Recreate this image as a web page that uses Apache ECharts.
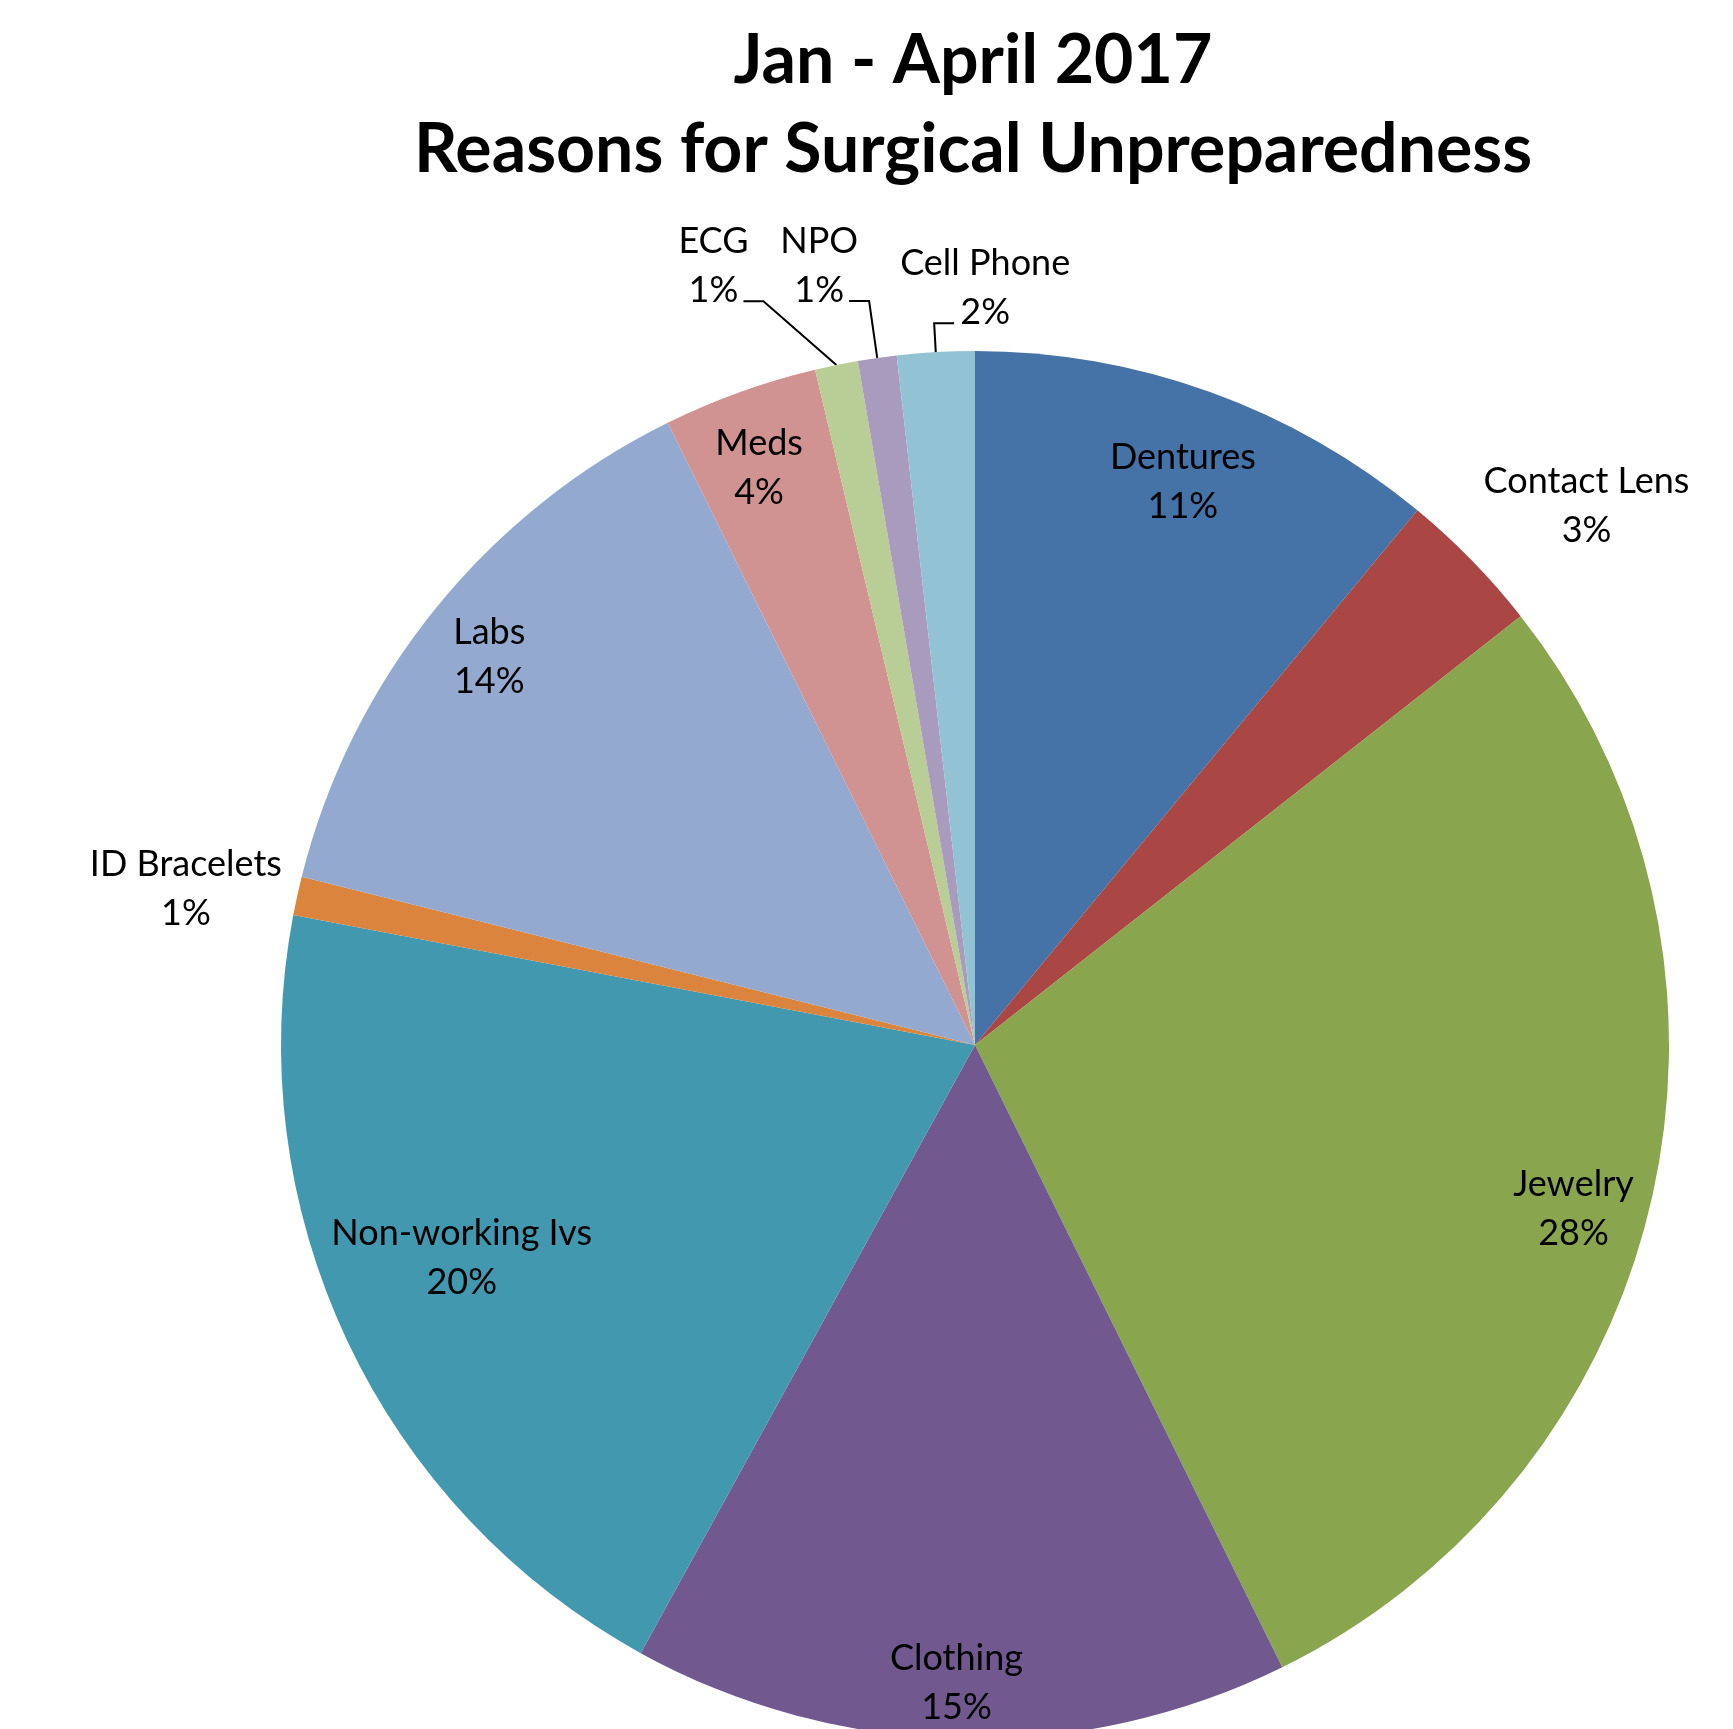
<!DOCTYPE html>
<html><head><meta charset="utf-8">
<script src="https://cdn.jsdelivr.net/npm/echarts@6/dist/echarts.min.js"></script>
<style>html,body{margin:0;padding:0;background:#fff}#chart{width:1733px;height:1729px}</style>
</head><body><div id="chart"></div>
<script>
// ---- data ----
const titleLines = ['Jan - April 2017', 'Reasons for Surgical Unpreparedness'];
const categories = ['Dentures', 'Contact Lens', 'Jewelry', 'Clothing', 'Non-working Ivs', 'ID Bracelets', 'Labs', 'Meds', 'ECG', 'NPO', 'Cell Phone'];
const values = [11.0, 3.4, 28.3, 15.3, 20.0, 0.9, 13.8, 3.6, 1.0, 0.9, 1.8];

// ---- styles ----
const colors = ['#4572A7', '#AA4643', '#89A54E', '#71588F', '#4198AF', '#DB843D', '#93A9CF', '#D19392', '#B9CD96', '#A99BBD', '#92C3D4'];
const labelPlacement = {
  'Dentures': 'inner', 'Contact Lens': 'outer', 'Jewelry': 'inner', 'Clothing': 'inner',
  'Non-working Ivs': 'inner', 'ID Bracelets': 'outer', 'Labs': 'inner', 'Meds': 'inner',
  'ECG': 'leader', 'NPO': 'leader', 'Cell Phone': 'leaderRight'
};
const labelNudge = {
  'Dentures': [0, 14], 'Jewelry': [0, 28], 'Clothing': [-5, 24], 'Non-working Ivs': [42, -48],
  'Labs': [-8, -3], 'Meds': [-8, 0], 'Contact Lens': [33, 25], 'ID Bracelets': [0, 18]
};
const leaderLength = { 'ECG': [65, 80], 'NPO': [57.5, 20], 'Cell Phone': [29, 20] };
const leaderTail = 20;
const CENTER = [975, 1045];
const R = 694;

const font = 'Lato, "Open Sans", sans-serif';
const labelText = { fontFamily: font, fontSize: 36, lineHeight: 49, color: '#000' };

function fmt(p) { return p.name + '\n' + Math.round(p.percent) + '%'; }

function placeLabel(params) {
  const name = categories[params.dataIndex];
  const kind = labelPlacement[name];
  const r = params.labelRect;
  if (kind === 'leader' || kind === 'leaderRight') {
    const pts = params.labelLinePoints;
    if (!pts || params.seriesIndex !== 0) return {};
    const edge = pts[0], bend = pts[1], end = pts[2];
    if (kind === 'leaderRight') {
      const tail = [bend[0] + leaderTail, bend[1]];
      return { x: tail[0] + 31, y: tail[1] - 35, align: 'center', labelLinePoints: [edge, bend, tail] };
    }
    return { x: end[0] - 30, y: end[1] - 35, align: 'center',
      labelLinePoints: [edge, [end[0] + leaderTail, end[1]], end] };
  }
  const nd = labelNudge[name] || [0, 0];
  return { x: r.x + r.width / 2 + nd[0], y: r.y + r.height / 2 + nd[1] };
}

const mainData = categories.map((n, i) => {
  const k = labelPlacement[n];
  const lead = (k === 'leader' || k === 'leaderRight');
  const item = { name: n, value: values[i], itemStyle: { color: colors[i] },
    label: { show: lead }, labelLine: { show: lead } };
  if (lead) { item.labelLine.length = leaderLength[n][0]; item.labelLine.length2 = leaderLength[n][1]; }
  return item;
});

function overlayData(kind) {
  return categories.map((n, i) => ({ name: n, value: values[i],
    label: { show: labelPlacement[n] === kind } }));
}

const overlayBase = {
  type: 'pie', center: CENTER, startAngle: 90, clockwise: true, silent: true,
  itemStyle: { color: 'rgba(0,0,0,0)', borderWidth: 0 },
  emphasis: { disabled: true }, labelLine: { show: false },
  label: Object.assign({ position: 'inside', formatter: fmt }, labelText),
  labelLayout: placeLabel, animation: false
};

const option = {
  backgroundColor: '#fff',
  animation: false,
  title: {
    text: titleLines.join('\n'),
    left: 968, top: 12, textAlign: 'center',
    textStyle: { fontFamily: font, fontWeight: 'bold', fontSize: 68, lineHeight: 89, color: '#000' }
  },
  series: [
    {
      type: 'pie', center: CENTER, radius: [0, R], startAngle: 90, clockwise: true,
      avoidLabelOverlap: false, silent: true,
      itemStyle: { borderWidth: 0 },
      emphasis: { disabled: true },
      label: Object.assign({ position: 'outside', formatter: fmt, distanceToLabelLine: 5 }, labelText),
      labelLine: { lineStyle: { color: '#000', width: 2 } },
      labelLayout: placeLabel,
      data: mainData
    },
    Object.assign({}, overlayBase, { radius: [R * 0.76, R], data: overlayData('inner') }),
    Object.assign({}, overlayBase, { radius: [R, R * 1.32], data: overlayData('outer') })
  ]
};

const chart = echarts.init(document.getElementById('chart'));
chart.setOption(option);
</script>
</body></html>
